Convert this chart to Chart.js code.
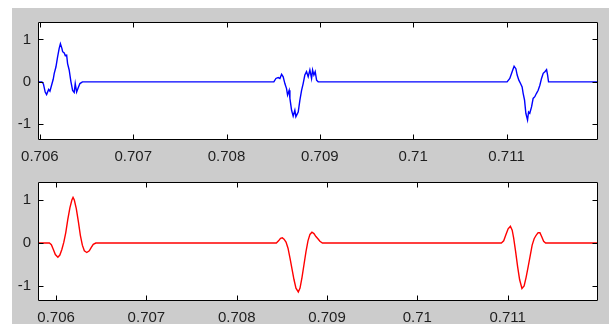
<!DOCTYPE html>
<html lang="en">
<head>
    <meta charset="UTF-8">
    <title>Signal bursts</title>
    <script src="https://cdn.jsdelivr.net/npm/chart.js"></script>
    <style>
        body {
            margin: 0;
            background: #fff;
            width: 612px;
            height: 324px;
            position: relative;
            overflow: hidden;
        }
        .figure-bg {
            position: absolute;
            left: 12px;
            top: 8px;
            width: 597px;
            height: 316px;
            background: #cccccc;
        }
        canvas {
            position: absolute;
            left: 0;
        }
        #topChart { top: 0; }
        #bottomChart { top: 162px; }
    </style>
</head>
<body>
    <div class="figure-bg"></div>
    <canvas id="topChart" width="612" height="162"></canvas>
    <canvas id="bottomChart" width="612" height="162"></canvas>

    <script>
        // measured signal (top, blue)
        const blueTimes = [
            0.70598, 0.706022, 0.706038, 0.706057, 0.706072, 0.706094, 0.706108, 0.706129, 0.706143, 0.706154,
            0.706172, 0.70619, 0.706207, 0.70622, 0.706236, 0.706244, 0.706261, 0.706272, 0.706287, 0.706297,
            0.706314, 0.706333, 0.706351, 0.706368, 0.706379, 0.706394, 0.706411, 0.706429, 0.706456,
            0.708507, 0.708529, 0.708553, 0.708572, 0.70859, 0.708607, 0.708625, 0.708643, 0.708654, 0.708671,
            0.708679, 0.708697, 0.708714, 0.708732, 0.708743, 0.708768, 0.708786, 0.708804, 0.708821, 0.708839,
            0.708857, 0.708875, 0.708893, 0.708911, 0.708922, 0.708936, 0.70895, 0.708965, 0.708982,
            0.711006, 0.711035, 0.71106, 0.711081, 0.7111, 0.711114, 0.711132, 0.71115, 0.711167, 0.711178,
            0.711193, 0.711207, 0.711225, 0.711236, 0.711249, 0.711268, 0.711285, 0.711303, 0.711321, 0.711339,
            0.711357, 0.711375, 0.711393, 0.711411, 0.711429, 0.71144, 0.71145, 0.71198
        ];
        const blueValues = [
            0, 0, -0.05, -0.24, -0.3, -0.18, -0.22, -0.05, 0.06, 0.2,
            0.35, 0.59, 0.79, 0.9, 0.79, 0.71, 0.68, 0.62, 0.63, 0.43,
            0.28, 0, -0.2, -0.25, -0.04, -0.24, -0.14, -0.04, 0,
            0, 0.08, 0.1, 0.08, 0.18, 0.12, -0.04, -0.16, -0.31, -0.2,
            -0.39, -0.67, -0.81, -0.67, -0.82, -0.71, -0.43, -0.2, -0.04, 0.16,
            0.24, 0.12, 0.28, 0.08, 0.28, 0.16, 0.24, 0.04, 0,
            0, 0.08, 0.24, 0.37, 0.31, 0.16, 0.04, -0.04, -0.12, -0.27,
            -0.43, -0.74, -0.9, -0.71, -0.74, -0.59, -0.39, -0.35, -0.27, -0.2,
            -0.08, 0.08, 0.2, 0.24, 0.29, 0.16, 0, 0
        ];

        // reconstructed signal (bottom, red)
        const redTimes = [
            0.7058, 0.705926, 0.705948, 0.70597, 0.705992, 0.70602, 0.706042, 0.706064, 0.706086, 0.706108,
            0.70613, 0.706153, 0.706175, 0.706188, 0.706202, 0.706224, 0.706247, 0.706269, 0.706291, 0.706313,
            0.70634, 0.706368, 0.70639, 0.706412, 0.70644,
            0.708439, 0.708463, 0.708485, 0.708505, 0.708524, 0.708546, 0.708568, 0.70859, 0.708612, 0.708634,
            0.708656, 0.708682, 0.708701, 0.708723, 0.708745, 0.708767, 0.708789, 0.708811, 0.708833, 0.708855,
            0.708877, 0.708899, 0.708921, 0.708949,
            0.71093, 0.710956, 0.710978, 0.711005, 0.71103, 0.71105, 0.711066, 0.711088, 0.71111, 0.711132,
            0.711158, 0.711182, 0.711204, 0.711227, 0.711249, 0.711271, 0.711293, 0.711315, 0.711337, 0.711357,
            0.711376, 0.711398, 0.71142, 0.712
        ];
        const redValues = [
            0, 0, -0.04, -0.15, -0.27, -0.33, -0.28, -0.15, 0.02, 0.25,
            0.55, 0.82, 1.0, 1.06, 1.0, 0.8, 0.5, 0.18, -0.05, -0.18,
            -0.22, -0.18, -0.1, -0.03, 0,
            0, 0.05, 0.11, 0.12, 0.09, 0.02, -0.12, -0.35, -0.6, -0.85,
            -1.05, -1.14, -1.05, -0.8, -0.5, -0.2, 0.05, 0.2, 0.25, 0.22,
            0.15, 0.1, 0.04, 0,
            0, 0.05, 0.18, 0.33, 0.39, 0.3, 0.12, -0.2, -0.55, -0.85,
            -1.06, -1.0, -0.8, -0.55, -0.3, -0.05, 0.1, 0.18, 0.24, 0.24,
            0.15, 0.04, 0, 0
        ];

        const xTickValues = [0.706, 0.707, 0.708, 0.709, 0.71, 0.711];
        const yTickValues = [-1, 0, 1];

        const tickFont = { family: '"Liberation Sans", Arial, sans-serif', size: 15 };
        const tickColor = '#1e1e1e';

        // white axes box, black frame and inward ticks on all four sides
        const matlabAxes = {
            id: 'matlabAxes',
            beforeDraw(chart) {
                const { ctx, chartArea: a } = chart;
                ctx.save();
                ctx.fillStyle = '#ffffff';
                ctx.fillRect(a.left, a.top, a.right - a.left, a.bottom - a.top);
                ctx.restore();
            },
            afterDraw(chart) {
                const { ctx, chartArea: a, scales } = chart;
                const L = Math.round(a.left) + 0.5, R = Math.round(a.right) - 0.5;
                const T = Math.round(a.top) + 0.5, B = Math.round(a.bottom) - 0.5;
                const len = 5;
                ctx.save();
                ctx.strokeStyle = '#000';
                ctx.lineWidth = 1;
                ctx.beginPath();
                ctx.rect(L, T, R - L, B - T);
                scales.x.ticks.forEach(t => {
                    const px = Math.round(scales.x.getPixelForValue(t.value)) + 0.5;
                    ctx.moveTo(px, B); ctx.lineTo(px, B - len);
                    ctx.moveTo(px, T); ctx.lineTo(px, T + len);
                });
                scales.y.ticks.forEach(t => {
                    const py = Math.round(scales.y.getPixelForValue(t.value)) + 0.5;
                    ctx.moveTo(L, py); ctx.lineTo(L + len, py);
                    ctx.moveTo(R, py); ctx.lineTo(R - len, py);
                });
                ctx.stroke();
                ctx.restore();
            }
        };

        function makeChart(id, times, values, color, xRange, yRange, padTop, xAxisHeight, labelPad) {
            const points = times.map((t, i) => ({ x: t, y: values[i] }));
            return new Chart(document.getElementById(id), {
                type: 'line',
                data: {
                    datasets: [{
                        data: points,
                        borderColor: color,
                        borderWidth: 1.4,
                        pointRadius: 0,
                        tension: 0,
                        fill: false
                    }]
                },
                options: {
                    responsive: false,
                    animation: false,
                    layout: { padding: { top: padTop, right: 14, left: 0, bottom: 0 } },
                    plugins: { legend: { display: false }, tooltip: { enabled: false } },
                    scales: {
                        x: {
                            type: 'linear',
                            min: xRange[0],
                            max: xRange[1],
                            afterBuildTicks: s => { s.ticks = xTickValues.map(v => ({ value: v })); },
                            afterFit: s => { s.height = xAxisHeight; },
                            grid: { display: false, drawTicks: false },
                            border: { display: false },
                            ticks: {
                                padding: labelPad,
                                maxRotation: 0,
                                autoSkip: false,
                                color: tickColor,
                                font: tickFont,
                                callback: v => String(Number(v.toFixed(3)))
                            }
                        },
                        y: {
                            min: yRange[0],
                            max: yRange[1],
                            afterBuildTicks: s => { s.ticks = yTickValues.map(v => ({ value: v })); },
                            afterFit: s => { s.width = 38; },
                            grid: { display: false, drawTicks: false },
                            border: { display: false },
                            ticks: {
                                padding: 7,
                                color: tickColor,
                                font: tickFont,
                                callback: v => String(v)
                            }
                        }
                    }
                },
                plugins: [matlabAxes]
            });
        }

        makeChart('topChart', blueTimes, blueValues, '#0000ff', [0.70598, 0.71198], [-1.37, 1.41], 22, 22, 8);
        makeChart('bottomChart', redTimes, redValues, '#ff0000', [0.7058, 0.712], [-1.35, 1.42], 20, 23, 8);
    </script>
</body>
</html>
